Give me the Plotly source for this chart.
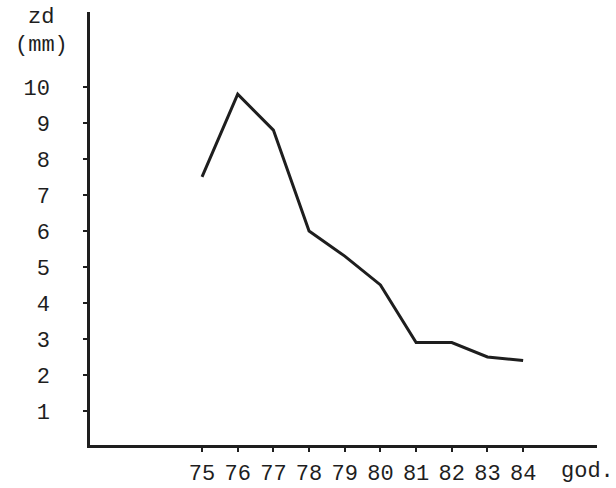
import plotly.graph_objects as go

years = [75, 76, 77, 78, 79, 80, 81, 82, 83, 84]
values = [7.5, 9.8, 8.8, 6.0, 5.3, 4.5, 2.9, 2.9, 2.5, 2.4]
x_tick_labels = ["75", "76", "77", "78", "79", "80", "81", "82", "83", "84"]
y_ticks = [1, 2, 3, 4, 5, 6, 7, 8, 9, 10]
y_tick_labels = ["1", "2", "3", "4", "5", "6", "7", "8", "9", "10"]

ink = "#1e1e1e"
font = dict(family="Liberation Mono, Courier New, monospace", size=22, color=ink)

fig = go.Figure()
fig.add_trace(go.Scatter(x=years, y=values, mode="lines",
                         line=dict(color=ink, width=3), showlegend=False,
                         hoverinfo="skip"))

fig.update_layout(
    width=616, height=488,
    margin=dict(l=90, r=19, t=12, b=43, autoexpand=False),
    paper_bgcolor="white", plot_bgcolor="white",
    font=font,
    xaxis=dict(range=[71.86, 86.07], tickmode="array", tickvals=years,
               ticktext=x_tick_labels, showgrid=False, zeroline=False,
               showline=True, linecolor=ink, linewidth=2.5,
               ticks="outside", ticklen=4, tickwidth=2, tickcolor=ink,
               ticklabelstandoff=2, automargin=False),
    yaxis=dict(range=[0.055, 12.08], tickmode="array", tickvals=y_ticks,
               ticktext=y_tick_labels, showgrid=False, zeroline=False,
               showline=True, linecolor=ink, linewidth=2.5,
               ticks="outside", ticklen=4, tickwidth=2, tickcolor=ink,
               ticklabelstandoff=29, automargin=False),
    annotations=[
        dict(text="zd", xref="paper", yref="paper", x=-0.1, y=1.0,
             xanchor="center", yanchor="middle", showarrow=False,
             xshift=2, yshift=-5, font=font),
        dict(text="(mm)", xref="paper", yref="paper", x=-0.1, y=1.0,
             xanchor="center", yanchor="middle", showarrow=False,
             xshift=2, yshift=-33, font=font),
        dict(text="god.", xref="paper", yref="paper", x=0.97, y=0,
             xanchor="center", yanchor="middle", showarrow=False,
             xshift=6, yshift=-26, font=font),
    ],
)

fig.write_html("out.html", config={"displayModeBar": False},
               post_script="document.body.style.margin='0';")
